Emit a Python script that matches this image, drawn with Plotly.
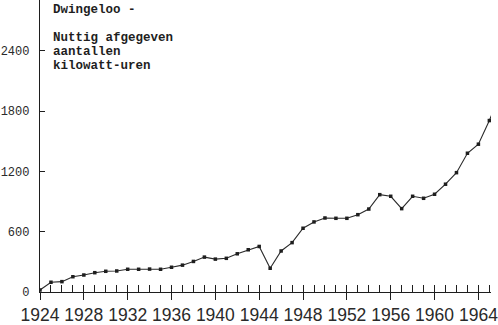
import plotly.graph_objects as go

years = list(range(1924, 1967))
kwh = [20, 97, 103, 152, 169, 192, 206, 209, 226, 226,
       228, 226, 246, 267, 304, 347, 327, 335, 380, 420,
       453, 236, 408, 491, 634, 697, 736, 733, 733, 769,
       825, 968, 952, 829, 952, 932, 972, 1072, 1187, 1380,
       1470, 1705, 1980]

x_ticks = list(range(1924, 1968, 4))
x_ticklabels = [str(v) for v in x_ticks]
y_ticks = [0, 600, 1200, 1800, 2400]
y_ticklabels = ["0", "600", "1200", "1800", "2400"]

title_lines = ["Dwingeloo -", "Nuttig afgegeven", "aantallen", "kilowatt-uren"]

ink = "#1e1e1e"
x_range = [1924, 1965.15]
y_range = [0, 2904]

fig = go.Figure()
fig.add_trace(go.Scatter(
    x=years, y=kwh, mode="lines+markers",
    line=dict(color="#2a2a2a", width=1.1),
    marker=dict(symbol="square", size=3.5, color=ink),
    cliponaxis=True, showlegend=False,
))
fig.add_trace(go.Scatter(
    x=years, y=kwh, mode="none", xaxis="x2", showlegend=False, hoverinfo="skip",
))

fig.update_layout(
    width=498, height=325,
    margin=dict(l=40, r=0, t=0, b=33),
    paper_bgcolor="white", plot_bgcolor="white",
    xaxis=dict(
        range=x_range, tickmode="array", tickvals=x_ticks, ticktext=x_ticklabels,
        ticks="outside", ticklen=7, tickwidth=1.3, tickcolor=ink,
        showline=True, linecolor=ink, linewidth=1.3,
        showgrid=False, zeroline=False, ticklabeloverflow="allow",
        tickfont=dict(family="Liberation Sans", size=17.5, color="#2a2a2a"),
    ),
    xaxis2=dict(
        range=x_range, overlaying="x", tickmode="linear", tick0=1924, dtick=1,
        ticks="inside", ticklen=7, tickwidth=1.2, tickcolor=ink,
        showticklabels=False, showline=False, showgrid=False, zeroline=False,
        side="bottom",
    ),
    yaxis=dict(
        range=y_range, tickmode="array", tickvals=y_ticks, ticktext=y_ticklabels,
        ticks="inside", ticklen=5, tickwidth=1.2, tickcolor=ink,
        showline=True, linecolor=ink, linewidth=1.3,
        showgrid=False, zeroline=False, ticklabelstandoff=7,
        tickfont=dict(family="Liberation Mono", size=12, color="#2a2a2a"),
    ),
)

ys = [10, 38, 52, 66]
for txt, yp in zip(title_lines, ys):
    fig.add_annotation(
        text="<b>" + txt + "</b>", xref="paper", yref="paper",
        x=(51 - 40) / 458, y=1 - yp / 292, xanchor="left", yanchor="middle",
        showarrow=False,
        font=dict(family="Liberation Mono", size=12.5, color=ink),
    )

fig.write_html("out.html")
